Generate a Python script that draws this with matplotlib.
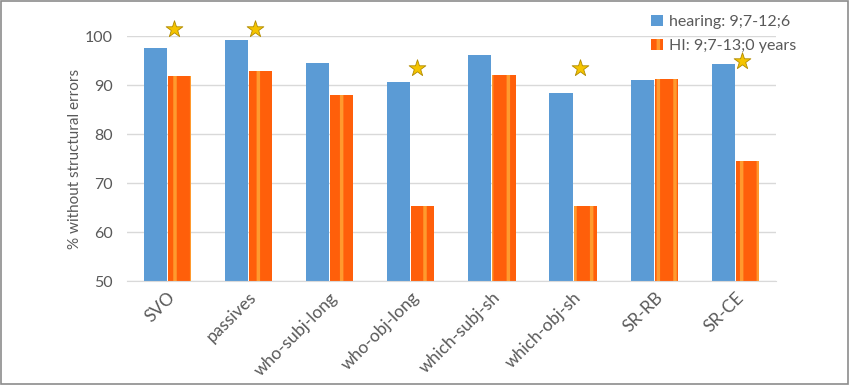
import matplotlib
matplotlib.use("Agg")
import matplotlib.pyplot as plt
from matplotlib.patches import Rectangle
import numpy as np

plt.rcParams['font.family'] = ['Lato', 'DejaVu Sans']
plt.rcParams['hatch.linewidth'] = 2.5

categories = ["SVO", "passives", "who-subj-long", "who-obj-long",
              "which-subj-sh", "which-obj-sh", "SR-RB", "SR-CE"]
hearing = [97.6, 99.2, 94.5, 90.6, 96.1, 88.4, 91.0, 94.3]
hi = [91.8, 92.8, 87.9, 65.4, 92.0, 65.4, 91.3, 74.5]
star_cats = [0, 1, 3, 5, 7]
star_y = [101.4, 101.4, 93.6, 93.6, 94.9]
series_labels = ["hearing: 9;7-12;6", "HI: 9;7-13;0 years"]
yticks = [50, 60, 70, 80, 90, 100]

fig = plt.figure(figsize=(8.5, 3.85), dpi=100)
ax = fig.add_axes([0.149, 0.270, 0.764, 0.636])

x = np.arange(len(categories))
w = 0.285
gap = 0.012
ax.bar(x - w/2 - gap/2, hearing, width=w, color='#5B9BD5',
       label=series_labels[0], zorder=2)
ax.bar(x + w/2 + gap/2, hi, width=w, color='#FF5F0A', edgecolor='#FF9A2E',
       hatch='|', linewidth=0, label=series_labels[1], zorder=2)

sx = [x[i] + 0.08 for i in star_cats]
ax.scatter(sx, star_y, marker='*', s=160, color='#F5C400', edgecolors='#B08A00',
           linewidths=0.6, zorder=4, clip_on=False)

ax.set_ylim(50, 100)
ax.set_xlim(-0.5, len(categories) - 0.5)
ax.set_yticks(yticks)
ax.yaxis.grid(True, color='#D9D9D9', linewidth=1, zorder=0)
ax.set_axisbelow(True)
for s in ['top', 'right', 'left']:
    ax.spines[s].set_visible(False)
ax.spines['bottom'].set_color('#D9D9D9')
ax.tick_params(axis='both', length=0, colors='#595959', labelsize=11.5)
ax.tick_params(axis='y', pad=10)
ax.tick_params(axis='x', pad=6)
ax.set_xticks(x)
ax.set_xticklabels(categories, rotation=45, ha='right', rotation_mode='anchor')
for lbl in ax.get_xticklabels():
    lbl.set_fontsize(12.5)
ax.set_ylabel("% without structural errors", color='#595959', fontsize=11, labelpad=2)

leg = ax.legend(loc='upper left', bbox_to_anchor=(0.786, 1.145), frameon=False,
                fontsize=11.5, handlelength=0.7, handleheight=0.7, handletextpad=0.4,
                labelspacing=0.6, labelcolor='#595959')
leg.set_zorder(5)

fig.patches.append(Rectangle((0.001, 0.002), 0.997, 0.995, transform=fig.transFigure,
                             fill=False, edgecolor='#8c8c8c', linewidth=1.2))

fig.savefig("out.png", dpi=100)
